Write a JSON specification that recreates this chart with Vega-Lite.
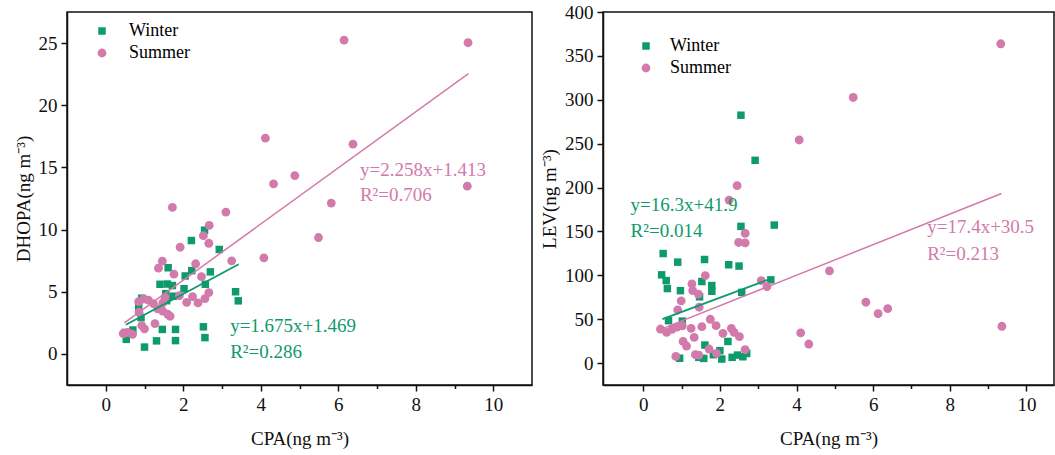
{
  "$schema": "https://vega.github.io/schema/vega-lite/v6.json",
  "padding": {"left": 13, "top": 2, "right": 0, "bottom": 0},
  "autosize": {"type": "pad"},
  "background": "#ffffff",
  "config": {
    "font": "Liberation Serif",
    "view": {"stroke": "#111", "strokeWidth": 1.5},
    "axis": {"domainColor": "#111", "domainWidth": 1.5, "tickColor": "#111", "tickWidth": 1.5, "labelFont": "Liberation Serif", "labelFontSize": 19, "labelColor": "#111", "titleFont": "Liberation Serif", "titleFontSize": 19, "titleFontWeight": "normal", "titleColor": "#111", "grid": false, "labelFlush": false, "labelOverlap": false, "labelBound": false},
    "text": {"font": "Liberation Serif"}
  },
  "datasets": {
    "dhopa": [
      {"season": "Winter", "cpa": 2.55, "value": 9.95}, {"season": "Winter", "cpa": 2.21, "value": 9.12}, {"season": "Winter", "cpa": 2.93, "value": 8.40}, {"season": "Winter", "cpa": 1.61, "value": 6.93}, {"season": "Winter", "cpa": 2.22, "value": 6.70}, {"season": "Winter", "cpa": 2.70, "value": 6.60}, {"season": "Winter", "cpa": 2.05, "value": 6.27}, {"season": "Winter", "cpa": 1.40, "value": 5.60}, {"season": "Winter", "cpa": 1.59, "value": 5.62}, {"season": "Winter", "cpa": 2.57, "value": 5.60}, {"season": "Winter", "cpa": 2.02, "value": 5.24}, {"season": "Winter", "cpa": 3.35, "value": 5.00}, {"season": "Winter", "cpa": 1.55, "value": 4.85}, {"season": "Winter", "cpa": 1.74, "value": 4.64}, {"season": "Winter", "cpa": 0.93, "value": 4.48}, {"season": "Winter", "cpa": 3.42, "value": 4.27}, {"season": "Winter", "cpa": 1.57, "value": 4.28}, {"season": "Winter", "cpa": 0.91, "value": 2.92}, {"season": "Winter", "cpa": 2.52, "value": 2.18}, {"season": "Winter", "cpa": 1.46, "value": 1.97}, {"season": "Winter", "cpa": 1.80, "value": 1.97}, {"season": "Winter", "cpa": 0.70, "value": 1.92}, {"season": "Winter", "cpa": 0.53, "value": 1.17}, {"season": "Winter", "cpa": 2.56, "value": 1.31}, {"season": "Winter", "cpa": 1.31, "value": 1.05}, {"season": "Winter", "cpa": 1.80, "value": 1.07}, {"season": "Winter", "cpa": 1.00, "value": 0.55}, {"season": "Winter", "cpa": 0.50, "value": 1.73}, {"season": "Winter", "cpa": 0.85, "value": 3.70}, {"season": "Winter", "cpa": 1.72, "value": 5.50},
      {"season": "Summer", "cpa": 6.15, "value": 25.24}, {"season": "Summer", "cpa": 9.35, "value": 25.03}, {"season": "Summer", "cpa": 4.12, "value": 17.35}, {"season": "Summer", "cpa": 6.38, "value": 16.87}, {"season": "Summer", "cpa": 4.88, "value": 14.34}, {"season": "Summer", "cpa": 4.33, "value": 13.67}, {"season": "Summer", "cpa": 9.33, "value": 13.49}, {"season": "Summer", "cpa": 5.82, "value": 12.13}, {"season": "Summer", "cpa": 1.72, "value": 11.78}, {"season": "Summer", "cpa": 3.10, "value": 11.41}, {"season": "Summer", "cpa": 2.67, "value": 10.34}, {"season": "Summer", "cpa": 2.52, "value": 9.51}, {"season": "Summer", "cpa": 5.49, "value": 9.36}, {"season": "Summer", "cpa": 2.66, "value": 8.90}, {"season": "Summer", "cpa": 1.92, "value": 8.58}, {"season": "Summer", "cpa": 3.25, "value": 7.49}, {"season": "Summer", "cpa": 4.08, "value": 7.73}, {"season": "Summer", "cpa": 1.46, "value": 7.46}, {"season": "Summer", "cpa": 1.36, "value": 6.90}, {"season": "Summer", "cpa": 2.32, "value": 7.25}, {"season": "Summer", "cpa": 1.76, "value": 6.42}, {"season": "Summer", "cpa": 2.47, "value": 6.21}, {"season": "Summer", "cpa": 2.66, "value": 4.93}, {"season": "Summer", "cpa": 2.24, "value": 4.61}, {"season": "Summer", "cpa": 2.56, "value": 4.45}, {"season": "Summer", "cpa": 2.38, "value": 4.10}, {"season": "Summer", "cpa": 2.09, "value": 4.15}, {"season": "Summer", "cpa": 1.90, "value": 4.68}, {"season": "Summer", "cpa": 1.53, "value": 4.55}, {"season": "Summer", "cpa": 0.85, "value": 4.20}, {"season": "Summer", "cpa": 0.98, "value": 4.42}, {"season": "Summer", "cpa": 1.10, "value": 4.32}, {"season": "Summer", "cpa": 1.23, "value": 4.05}, {"season": "Summer", "cpa": 1.47, "value": 4.10}, {"season": "Summer", "cpa": 0.86, "value": 3.35}, {"season": "Summer", "cpa": 1.34, "value": 3.62}, {"season": "Summer", "cpa": 1.47, "value": 3.45}, {"season": "Summer", "cpa": 1.60, "value": 3.19}, {"season": "Summer", "cpa": 1.66, "value": 3.03}, {"season": "Summer", "cpa": 1.27, "value": 2.44}, {"season": "Summer", "cpa": 0.93, "value": 2.28}, {"season": "Summer", "cpa": 1.00, "value": 2.02}, {"season": "Summer", "cpa": 0.45, "value": 1.64}, {"season": "Summer", "cpa": 0.57, "value": 1.72}, {"season": "Summer", "cpa": 0.69, "value": 1.58}
    ],
    "lev": [
      {"season": "Winter", "cpa": 2.55, "value": 282.4}, {"season": "Winter", "cpa": 2.92, "value": 231.0}, {"season": "Winter", "cpa": 2.55, "value": 155.7}, {"season": "Winter", "cpa": 3.42, "value": 157.2}, {"season": "Winter", "cpa": 0.52, "value": 124.8}, {"season": "Winter", "cpa": 1.60, "value": 118.0}, {"season": "Winter", "cpa": 0.90, "value": 115.0}, {"season": "Winter", "cpa": 2.23, "value": 112.0}, {"season": "Winter", "cpa": 2.50, "value": 110.5}, {"season": "Winter", "cpa": 0.48, "value": 100.5}, {"season": "Winter", "cpa": 0.60, "value": 94.0}, {"season": "Winter", "cpa": 3.33, "value": 94.8}, {"season": "Winter", "cpa": 1.53, "value": 92.9}, {"season": "Winter", "cpa": 1.79, "value": 88.3}, {"season": "Winter", "cpa": 0.63, "value": 84.9}, {"season": "Winter", "cpa": 0.97, "value": 82.5}, {"season": "Winter", "cpa": 1.79, "value": 81.8}, {"season": "Winter", "cpa": 2.57, "value": 80.5}, {"season": "Winter", "cpa": 1.47, "value": 75.5}, {"season": "Winter", "cpa": 0.66, "value": 48.3}, {"season": "Winter", "cpa": 1.02, "value": 47.8}, {"season": "Winter", "cpa": 2.21, "value": 24.6}, {"season": "Winter", "cpa": 1.61, "value": 20.5}, {"season": "Winter", "cpa": 2.00, "value": 14.1}, {"season": "Winter", "cpa": 0.95, "value": 5.5}, {"season": "Winter", "cpa": 1.45, "value": 6.5}, {"season": "Winter", "cpa": 1.58, "value": 5.3}, {"season": "Winter", "cpa": 1.83, "value": 9.5}, {"season": "Winter", "cpa": 2.05, "value": 4.6}, {"season": "Winter", "cpa": 2.32, "value": 6.5}, {"season": "Winter", "cpa": 2.46, "value": 9.1}, {"season": "Winter", "cpa": 2.60, "value": 7.2}, {"season": "Winter", "cpa": 2.70, "value": 11.0},
      {"season": "Summer", "cpa": 9.33, "value": 363.8}, {"season": "Summer", "cpa": 5.48, "value": 302.6}, {"season": "Summer", "cpa": 4.07, "value": 254.2}, {"season": "Summer", "cpa": 2.45, "value": 202.1}, {"season": "Summer", "cpa": 2.24, "value": 185.7}, {"season": "Summer", "cpa": 2.66, "value": 147.7}, {"season": "Summer", "cpa": 2.49, "value": 137.4}, {"season": "Summer", "cpa": 2.66, "value": 137.0}, {"season": "Summer", "cpa": 4.86, "value": 105.0}, {"season": "Summer", "cpa": 1.62, "value": 99.7}, {"season": "Summer", "cpa": 3.08, "value": 94.0}, {"season": "Summer", "cpa": 3.23, "value": 87.2}, {"season": "Summer", "cpa": 1.27, "value": 90.2}, {"season": "Summer", "cpa": 1.29, "value": 82.6}, {"season": "Summer", "cpa": 1.44, "value": 78.6}, {"season": "Summer", "cpa": 0.99, "value": 70.8}, {"season": "Summer", "cpa": 1.46, "value": 63.6}, {"season": "Summer", "cpa": 5.81, "value": 69.3}, {"season": "Summer", "cpa": 6.38, "value": 62.0}, {"season": "Summer", "cpa": 6.13, "value": 56.3}, {"season": "Summer", "cpa": 0.90, "value": 60.5}, {"season": "Summer", "cpa": 1.75, "value": 49.9}, {"season": "Summer", "cpa": 1.90, "value": 42.6}, {"season": "Summer", "cpa": 9.36, "value": 41.9}, {"season": "Summer", "cpa": 1.53, "value": 41.5}, {"season": "Summer", "cpa": 0.45, "value": 38.8}, {"season": "Summer", "cpa": 0.61, "value": 35.0}, {"season": "Summer", "cpa": 0.75, "value": 38.5}, {"season": "Summer", "cpa": 0.88, "value": 41.0}, {"season": "Summer", "cpa": 1.02, "value": 42.5}, {"season": "Summer", "cpa": 1.25, "value": 39.6}, {"season": "Summer", "cpa": 2.30, "value": 39.6}, {"season": "Summer", "cpa": 2.37, "value": 35.0}, {"season": "Summer", "cpa": 2.51, "value": 30.1}, {"season": "Summer", "cpa": 2.08, "value": 33.9}, {"season": "Summer", "cpa": 4.11, "value": 34.3}, {"season": "Summer", "cpa": 4.32, "value": 21.7}, {"season": "Summer", "cpa": 1.04, "value": 24.7}, {"season": "Summer", "cpa": 1.13, "value": 19.4}, {"season": "Summer", "cpa": 1.33, "value": 29.3}, {"season": "Summer", "cpa": 1.72, "value": 16.0}, {"season": "Summer", "cpa": 1.91, "value": 11.0}, {"season": "Summer", "cpa": 1.36, "value": 9.5}, {"season": "Summer", "cpa": 1.45, "value": 9.1}, {"season": "Summer", "cpa": 0.85, "value": 7.6}, {"season": "Summer", "cpa": 2.66, "value": 15.2}
    ],
    "fitDhopa": [
      {"season": "Winter", "cpa": 0.52, "value": 2.34}, {"season": "Winter", "cpa": 3.43, "value": 7.21},
      {"season": "Summer", "cpa": 0.48, "value": 2.50}, {"season": "Summer", "cpa": 9.36, "value": 22.55}
    ],
    "fitLev": [
      {"season": "Winter", "cpa": 0.50, "value": 50.05}, {"season": "Winter", "cpa": 3.25, "value": 94.9},
      {"season": "Summer", "cpa": 0.50, "value": 39.2}, {"season": "Summer", "cpa": 9.35, "value": 193.2}
    ],
    "eqDhopa": [
      {"season": "Summer", "cpa": 6.56, "value": 14.79, "label": "y=2.258x+1.413"},
      {"season": "Summer", "cpa": 6.56, "value": 12.77, "label": "R²=0.706"},
      {"season": "Winter", "cpa": 3.21, "value": 2.24, "label": "y=1.675x+1.469"},
      {"season": "Winter", "cpa": 3.21, "value": 0.13, "label": "R²=0.286"}
    ],
    "eqLev": [
      {"season": "Winter", "cpa": -0.33, "value": 179.6, "label": "y=16.3x+41.9"},
      {"season": "Winter", "cpa": -0.33, "value": 150.0, "label": "R²=0.014"},
      {"season": "Summer", "cpa": 7.41, "value": 154.9, "label": "y=17.4x+30.5"},
      {"season": "Summer", "cpa": 7.41, "value": 124.5, "label": "R²=0.213"}
    ]
  },
  "bounds": "flush",
  "spacing": 71,
  "resolve": {"scale": {"color": "independent", "shape": "independent", "size": "independent"}},
  "hconcat": [
    {
      "width": 465,
      "height": 373,
      "layer": [
        {
          "data": {"name": "dhopa"},
          "mark": {"type": "point", "filled": true, "opacity": 1},
          "encoding": {
            "x": {"field": "cpa", "type": "quantitative", "scale": {"domain": [-1, 11], "nice": false, "zero": false},
              "axis": {"title": "CPA(ng m⁻³)", "values": [0, 1, 2, 3, 4, 5, 6, 7, 8, 9, 10], "labelExpr": "datum.value % 2 === 0 ? datum.label : ''", "tickSize": {"condition": {"test": "datum.value % 2 === 0", "value": 6}, "value": 3.5}, "labelPadding": 4, "titlePadding": 15}},
            "y": {"field": "value", "type": "quantitative", "scale": {"domain": [-2.5, 27.5], "nice": false, "zero": false},
              "axis": {"title": "DHOPA(ng m⁻³)", "values": [0, 2.5, 5, 7.5, 10, 12.5, 15, 17.5, 20, 22.5, 25], "labelExpr": "datum.value % 5 === 0 ? datum.label : ''", "tickSize": {"condition": {"test": "datum.value % 5 === 0", "value": 6}, "value": 3.5}, "labelPadding": 4, "titlePadding": 5}},
            "color": {"field": "season", "type": "nominal", "scale": {"domain": ["Winter", "Summer"], "range": ["#0e9a6c", "#d27aab"]},
              "legend": {"title": null, "orient": "none", "legendX": 26, "legendY": 10, "padding": 0, "rowPadding": 4, "labelFont": "Liberation Serif", "labelFontSize": 18, "labelOffset": 18, "symbolSize": 64, "symbolStrokeWidth": 0, "labelLimit": 0, "encode": {"labels": {"update": {"fill": {"signal": "datum.label === 'Winter' ? '#0e9a6c' : '#d27aab'"}}}}}},
            "shape": {"field": "season", "type": "nominal", "scale": {"domain": ["Winter", "Summer"], "range": ["square", "circle"]},
              "legend": {"title": null, "orient": "none", "legendX": 26, "legendY": 10, "padding": 0, "rowPadding": 4, "labelFont": "Liberation Serif", "labelFontSize": 18, "labelOffset": 18, "symbolSize": 64, "symbolStrokeWidth": 0, "labelLimit": 0, "encode": {"labels": {"update": {"fill": {"signal": "datum.label === 'Winter' ? '#0e9a6c' : '#d27aab'"}}}}}},
            "size": {"field": "season", "type": "nominal", "scale": {"domain": ["Winter", "Summer"], "range": [56, 78]}, "legend": null}
          }
        },
        {
          "data": {"name": "fitDhopa"},
          "transform": [{"filter": "datum.season === 'Summer'"}],
          "mark": {"type": "line", "color": "#d27aab", "strokeWidth": 1.5},
          "encoding": {"x": {"field": "cpa", "type": "quantitative"}, "y": {"field": "value", "type": "quantitative"}}
        },
        {
          "data": {"name": "fitDhopa"},
          "transform": [{"filter": "datum.season === 'Winter'"}],
          "mark": {"type": "line", "color": "#0e9a6c", "strokeWidth": 1.8},
          "encoding": {"x": {"field": "cpa", "type": "quantitative"}, "y": {"field": "value", "type": "quantitative"}}
        },
        {
          "data": {"name": "eqDhopa"},
          "transform": [{"filter": "datum.season === 'Summer'"}],
          "mark": {"type": "text", "align": "left", "baseline": "middle", "fontSize": 19, "color": "#d27aab", "font": "Liberation Serif"},
          "encoding": {"x": {"field": "cpa", "type": "quantitative"}, "y": {"field": "value", "type": "quantitative"}, "text": {"field": "label"}}
        },
        {
          "data": {"name": "eqDhopa"},
          "transform": [{"filter": "datum.season === 'Winter'"}],
          "mark": {"type": "text", "align": "left", "baseline": "middle", "fontSize": 19, "color": "#0e9a6c", "font": "Liberation Serif"},
          "encoding": {"x": {"field": "cpa", "type": "quantitative"}, "y": {"field": "value", "type": "quantitative"}, "text": {"field": "label"}}
        }
      ]
    },
    {
      "width": 451,
      "height": 373,
      "layer": [
        {
          "data": {"name": "lev"},
          "mark": {"type": "point", "filled": true, "opacity": 1},
          "encoding": {
            "x": {"field": "cpa", "type": "quantitative", "scale": {"domain": [-1.05, 10.72], "nice": false, "zero": false},
              "axis": {"title": "CPA(ng m⁻³)", "values": [0, 1, 2, 3, 4, 5, 6, 7, 8, 9, 10], "labelExpr": "datum.value % 2 === 0 ? datum.label : ''", "tickSize": {"condition": {"test": "datum.value % 2 === 0", "value": 6}, "value": 3.5}, "labelPadding": 4, "titlePadding": 15}},
            "y": {"field": "value", "type": "quantitative", "scale": {"domain": [-25, 400], "nice": false, "zero": false},
              "axis": {"title": "LEV(ng m⁻³)", "values": [0, 25, 50, 75, 100, 125, 150, 175, 200, 225, 250, 275, 300, 325, 350, 375, 400], "labelExpr": "datum.value % 50 === 0 ? datum.label : ''", "tickSize": {"condition": {"test": "datum.value % 50 === 0", "value": 6}, "value": 3.5}, "labelPadding": 4, "titlePadding": 5}},
            "color": {"field": "season", "type": "nominal", "scale": {"domain": ["Winter", "Summer"], "range": ["#0e9a6c", "#d27aab"]},
              "legend": {"title": null, "orient": "none", "legendX": 34, "legendY": 25, "padding": 0, "rowPadding": 4, "labelFont": "Liberation Serif", "labelFontSize": 18, "labelOffset": 15, "symbolSize": 64, "symbolStrokeWidth": 0, "labelLimit": 0, "encode": {"labels": {"update": {"fill": {"signal": "datum.label === 'Winter' ? '#0e9a6c' : '#d27aab'"}}}}}},
            "shape": {"field": "season", "type": "nominal", "scale": {"domain": ["Winter", "Summer"], "range": ["square", "circle"]},
              "legend": {"title": null, "orient": "none", "legendX": 34, "legendY": 25, "padding": 0, "rowPadding": 4, "labelFont": "Liberation Serif", "labelFontSize": 18, "labelOffset": 15, "symbolSize": 64, "symbolStrokeWidth": 0, "labelLimit": 0, "encode": {"labels": {"update": {"fill": {"signal": "datum.label === 'Winter' ? '#0e9a6c' : '#d27aab'"}}}}}},
            "size": {"field": "season", "type": "nominal", "scale": {"domain": ["Winter", "Summer"], "range": [56, 78]}, "legend": null}
          }
        },
        {
          "data": {"name": "fitLev"},
          "transform": [{"filter": "datum.season === 'Summer'"}],
          "mark": {"type": "line", "color": "#d27aab", "strokeWidth": 1.5},
          "encoding": {"x": {"field": "cpa", "type": "quantitative"}, "y": {"field": "value", "type": "quantitative"}}
        },
        {
          "data": {"name": "fitLev"},
          "transform": [{"filter": "datum.season === 'Winter'"}],
          "mark": {"type": "line", "color": "#0e9a6c", "strokeWidth": 1.8},
          "encoding": {"x": {"field": "cpa", "type": "quantitative"}, "y": {"field": "value", "type": "quantitative"}}
        },
        {
          "data": {"name": "eqLev"},
          "transform": [{"filter": "datum.season === 'Summer'"}],
          "mark": {"type": "text", "align": "left", "baseline": "middle", "fontSize": 19, "color": "#d27aab", "font": "Liberation Serif"},
          "encoding": {"x": {"field": "cpa", "type": "quantitative"}, "y": {"field": "value", "type": "quantitative"}, "text": {"field": "label"}}
        },
        {
          "data": {"name": "eqLev"},
          "transform": [{"filter": "datum.season === 'Winter'"}],
          "mark": {"type": "text", "align": "left", "baseline": "middle", "fontSize": 19, "color": "#0e9a6c", "font": "Liberation Serif"},
          "encoding": {"x": {"field": "cpa", "type": "quantitative"}, "y": {"field": "value", "type": "quantitative"}, "text": {"field": "label"}}
        }
      ]
    }
  ]
}
